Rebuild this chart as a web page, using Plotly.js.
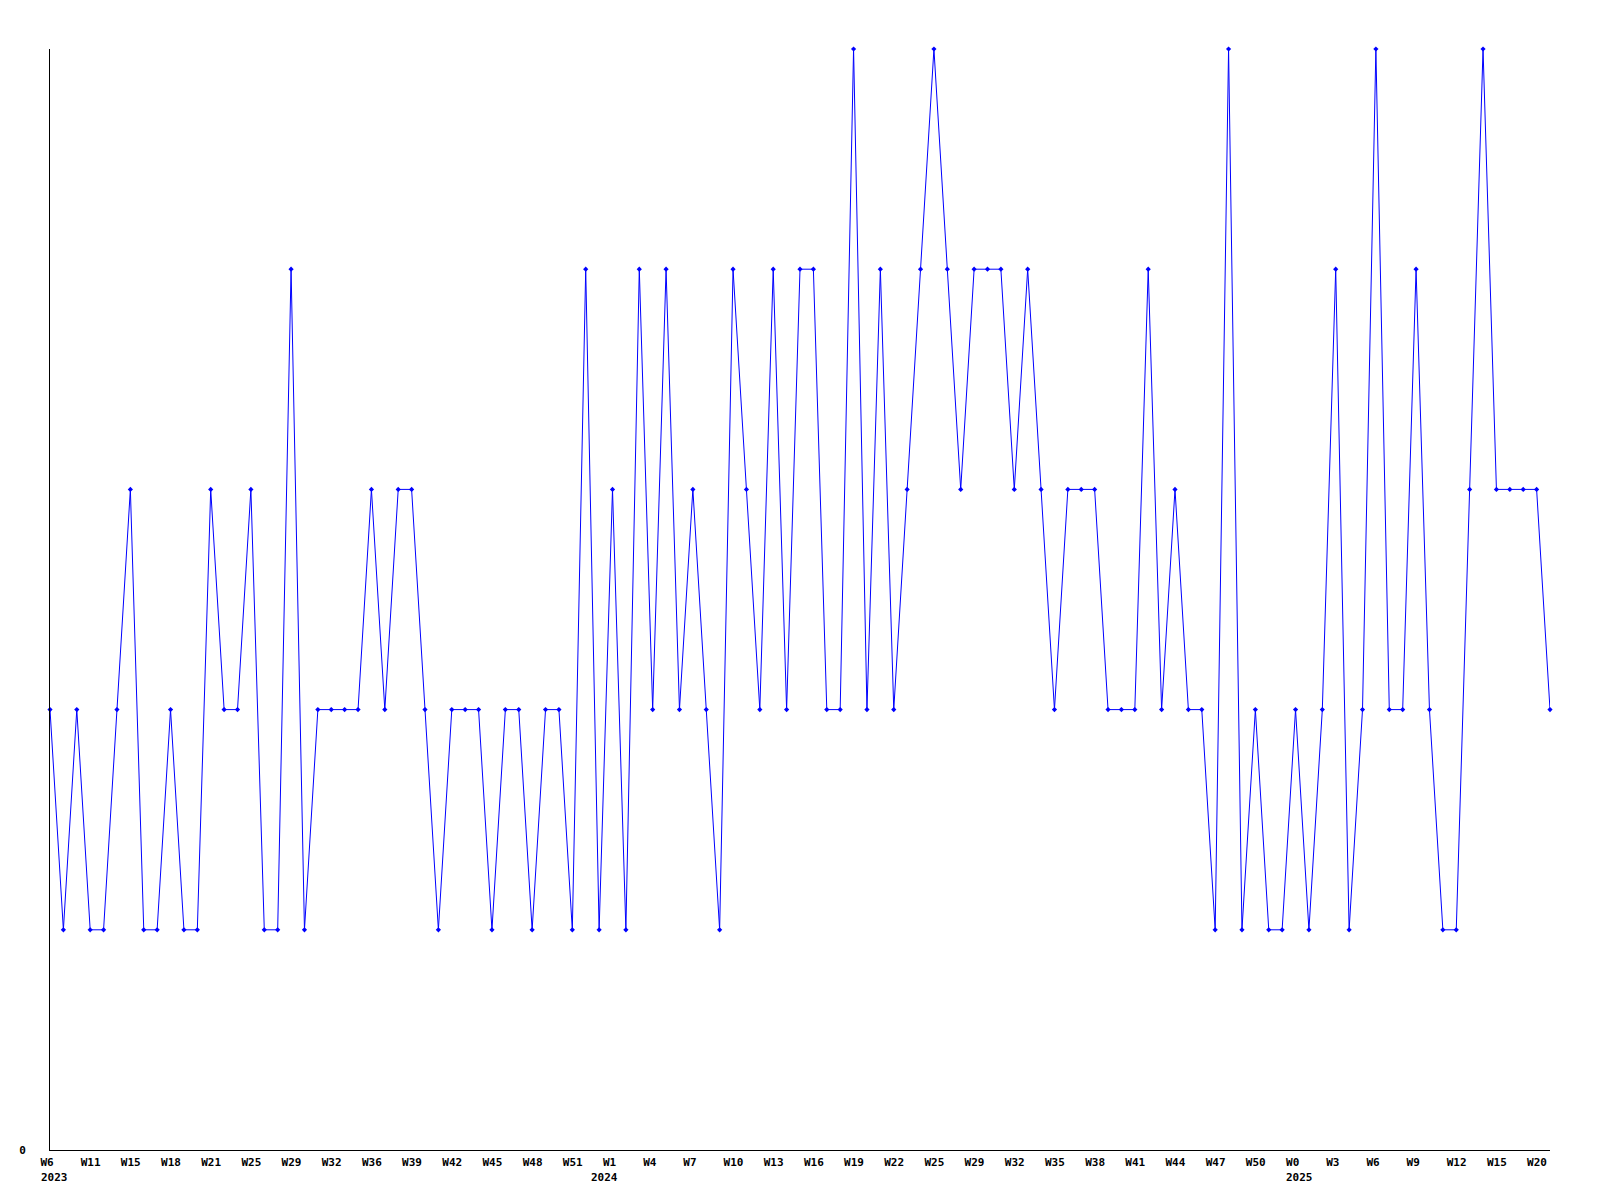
<!DOCTYPE html>
<html>
<head>
<meta charset="utf-8">
<script src="https://cdn.plot.ly/plotly-3.0.1.min.js"></script>
<style>html,body{margin:0;padding:0;background:#fff;}#chart{width:1600px;height:1200px;}</style>
</head>
<body>
<div id="chart"></div>
<script>
// Weekly values (113 points)
const values = [
  2,1,2,1,1,2,3,1,1,2,
  1,1,3,2,2,3,1,1,4,1,
  2,2,2,2,3,2,3,3,2,1,
  2,2,2,1,2,2,1,2,2,1,
  4,1,3,1,4,2,4,2,3,2,
  1,4,3,2,4,2,4,4,2,2,
  5,2,4,2,3,4,5,4,3,4,
  4,4,3,4,3,2,3,3,3,2,
  2,2,4,2,3,2,2,1,5,1,
  2,1,1,2,1,2,4,1,2,5,
  2,2,4,2,1,1,3,5,3,3,
  3,3,2
];
// Tick labels shown every third point
const weekTicks = ["W6","W11","W15","W18","W21","W25","W29","W32","W36","W39",
  "W42","W45","W48","W51","W1","W4","W7","W10","W13","W16",
  "W19","W22","W25","W29","W32","W35","W38","W41","W44","W47",
  "W50","W0","W3","W6","W9","W12","W15","W20"];
// Year labels: [tick index, text]
const yearTickIndex = [0, 14, 31];
const yearLabels = ["2023", "2024", "2025"];
const yearShift = [-11, -24, -12];
const tickStep = 3;

const xs = values.map((v,i)=>i);
const tickvals = weekTicks.map((w,k)=>k*tickStep);

const trace = {
  x: xs, y: values, type: 'scatter', mode: 'lines+markers',
  line: {color: '#0000ff', width: 1},
  marker: {color: '#0000ff', size: 4, symbol: 'diamond'},
  cliponaxis: false,
  hoverinfo: 'skip'
};

const font = {family: '"DejaVu Sans Mono", monospace', size: 11, color: '#000', weight: 'bold'};

const annotations = yearLabels.map((t,j)=>({
  x: yearTickIndex[j]*tickStep, xref: 'x',
  y: 0, yref: 'paper',
  text: t, showarrow: false,
  xanchor: 'left', yanchor: 'middle',
  xshift: yearShift[j], yshift: -27,
  font: font
}));

const layout = {
  width: 1600, height: 1200,
  margin: {l: 50, r: 50, t: 49, b: 50, pad: 0},
  paper_bgcolor: '#fff', plot_bgcolor: '#fff',
  showlegend: false,
  font: font,
  annotations: annotations,
  xaxis: {
    range: [0, values.length - 1],
    tickvals: tickvals, ticktext: weekTicks,
    showgrid: false, zeroline: false,
    showline: true, linecolor: '#000', linewidth: 1,
    ticks: '', tickfont: font,
    ticklabelposition: 'outside right', ticklabelshift: -10,
    ticklabelstandoff: 2
  },
  yaxis: {
    range: [0, 5],
    tickvals: [0], ticktext: ['0'],
    showgrid: false, zeroline: false,
    showline: true, linecolor: '#000', linewidth: 1,
    ticks: '', tickfont: font,
    ticklabelstandoff: 21
  }
};

Plotly.newPlot('chart', [trace], layout, {staticPlot: true, displayModeBar: false});
</script>
</body>
</html>
